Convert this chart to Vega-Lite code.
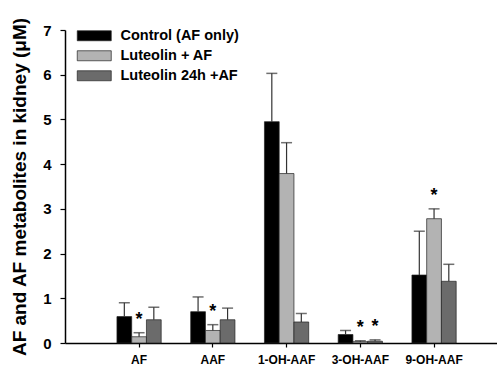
{
  "$schema": "https://vega.github.io/schema/vega-lite/v6.json",
  "width": 432,
  "height": 313,
  "autosize": {"type": "none"},
  "padding": {"left": 65, "top": 30, "right": 0, "bottom": 22},
  "background": "white",
  "config": {
    "view": {"stroke": null},
    "font": "Liberation Sans",
    "axis": {"domainColor": "#000", "tickColor": "#000", "labelColor": "#000", "titleColor": "#000", "grid": false}
  },
  "data": {
    "values": [
      {"compound": "AF", "group": "Control (AF only)", "value": 0.59, "err": 0.9, "sig": false},
      {"compound": "AF", "group": "Luteolin + AF", "value": 0.14, "err": 0.23, "sig": true},
      {"compound": "AF", "group": "Luteolin 24h +AF", "value": 0.52, "err": 0.8, "sig": false},
      {"compound": "AAF", "group": "Control (AF only)", "value": 0.7, "err": 1.03, "sig": false},
      {"compound": "AAF", "group": "Luteolin + AF", "value": 0.28, "err": 0.41, "sig": true},
      {"compound": "AAF", "group": "Luteolin 24h +AF", "value": 0.52, "err": 0.78, "sig": false},
      {"compound": "1-OH-AAF", "group": "Control (AF only)", "value": 4.95, "err": 6.03, "sig": false},
      {"compound": "1-OH-AAF", "group": "Luteolin + AF", "value": 3.79, "err": 4.48, "sig": false},
      {"compound": "1-OH-AAF", "group": "Luteolin 24h +AF", "value": 0.47, "err": 0.66, "sig": false},
      {"compound": "3-OH-AAF", "group": "Control (AF only)", "value": 0.19, "err": 0.28, "sig": false},
      {"compound": "3-OH-AAF", "group": "Luteolin + AF", "value": 0.03, "err": 0.05, "sig": true},
      {"compound": "3-OH-AAF", "group": "Luteolin 24h +AF", "value": 0.04, "err": 0.07, "sig": true},
      {"compound": "9-OH-AAF", "group": "Control (AF only)", "value": 1.52, "err": 2.5, "sig": false},
      {"compound": "9-OH-AAF", "group": "Luteolin + AF", "value": 2.78, "err": 3.0, "sig": true},
      {"compound": "9-OH-AAF", "group": "Luteolin 24h +AF", "value": 1.38, "err": 1.76, "sig": false}
    ]
  },
  "encoding": {
    "x": {
      "field": "compound",
      "type": "nominal",
      "sort": ["AF", "AAF", "1-OH-AAF", "3-OH-AAF", "9-OH-AAF"],
      "scale": {"paddingInner": 0.4, "paddingOuter": 0.629, "align": 0.56},
      "axis": {"title": null, "labelAngle": 0, "labelFontSize": 12, "labelFontWeight": "bold", "tickSize": 4, "labelPadding": 7, "domainWidth": 1.5, "tickWidth": 1.2}
    },
    "xOffset": {"field": "group", "type": "nominal", "sort": ["Control (AF only)", "Luteolin + AF", "Luteolin 24h +AF"]}
  },
  "layer": [
    {
      "mark": {"type": "bar", "stroke": "#222", "strokeWidth": 0.7},
      "encoding": {
        "y": {
          "field": "value",
          "type": "quantitative",
          "scale": {"domain": [0, 7], "nice": false},
          "axis": {"title": "AF and AF metabolites in kidney (μM)", "values": [0, 1, 2, 3, 4, 5, 6, 7], "labelFontSize": 15, "labelFontWeight": "bold", "titleFontSize": 19, "titleFontWeight": "bold", "tickSize": 5, "labelPadding": 9, "titlePadding": 13, "domainWidth": 1.5, "tickWidth": 1.2}
        },
        "color": {
          "field": "group",
          "type": "nominal",
          "scale": {"domain": ["Control (AF only)", "Luteolin + AF", "Luteolin 24h +AF"], "range": ["#000000", "#b3b3b3", "#6b6b6b"]},
          "legend": {
            "title": null,
            "orient": "none",
            "legendX": 22,
            "legendY": -1.5,
            "symbolType": "M-3.4,-1L3.4,-1L3.4,1L-3.4,1Z",
            "symbolSize": 100,
            "symbolStrokeColor": "#222",
            "symbolStrokeWidth": 0.7,
            "symbolOpacity": 1,
            "labelFontSize": 14.5,
            "labelFontWeight": "bold",
            "labelColor": "#000",
            "labelOffset": 19,
            "rowPadding": 5,
            "padding": 0
          }
        }
      }
    },
    {
      "mark": {"type": "rule", "color": "#333", "strokeWidth": 1.2},
      "encoding": {
        "y": {"field": "value", "type": "quantitative"},
        "y2": {"field": "err"}
      }
    },
    {
      "mark": {"type": "tick", "color": "#333", "thickness": 1.5, "size": 11},
      "encoding": {
        "y": {"field": "err", "type": "quantitative"}
      }
    },
    {
      "transform": [{"filter": "datum.sig"}],
      "mark": {"type": "text", "text": "*", "fontSize": 18, "fontWeight": "bold", "baseline": "alphabetic", "dy": -8, "color": "#000"},
      "encoding": {
        "y": {"field": "err", "type": "quantitative"}
      }
    }
  ]
}
